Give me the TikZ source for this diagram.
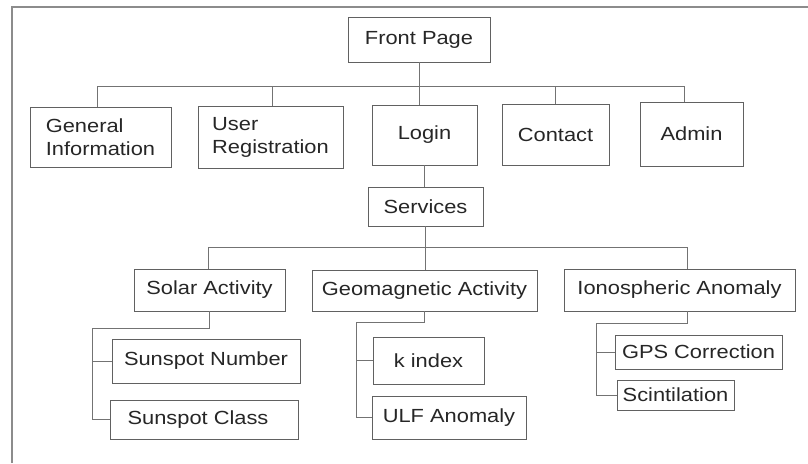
\documentclass[tikz,border=0pt]{standalone}
\usepackage{fontspec}
\newfontfamily\arialish[FakeStretch=1.15]{Liberation Sans}
\begin{document}
\begin{tikzpicture}[x=1pt,y=-1pt,
  box/.style={draw=black!62, line width=0.9pt, inner sep=0pt, align=center,
    font=\arialish\fontsize{19}{23}\selectfont, text=black!85},
  conn/.style={draw=black!55, line width=0.9pt},
  frame/.style={draw=black!45, line width=1.3pt}]
\useasboundingbox (0,0) rectangle (808,463);
\draw[frame] (12,463) -- (12,7) -- (808,7);

\node[box, minimum width=142, minimum height=45] (fp) at (419,39.5) {Front Page};
\node[box, minimum width=141, minimum height=60, align=left] (gen) at (100.5,137) {General\\Information};
\node[box, minimum width=145, minimum height=62, align=left] (reg) at (270.5,137) {User\\Registration};
\node[box, minimum width=105, minimum height=60] (login) at (424.5,135) {Login};
\node[box, minimum width=107, minimum height=61] (contact) at (555.5,134.5) {Contact};
\node[box, minimum width=103, minimum height=64] (admin) at (691.5,134) {Admin};
\node[box, minimum width=115, minimum height=39] (services) at (425.5,206.5) {Services};
\node[box, minimum width=151, minimum height=42] (solar) at (209.5,290) {Solar Activity};
\node[box, minimum width=225, minimum height=41] (geomag) at (424.5,290.5) {Geomagnetic Activity};
\node[box, minimum width=231, minimum height=42] (iono) at (679.5,290) {Ionospheric Anomaly};
\node[box, minimum width=188, minimum height=44] (sunnum) at (206,361) {Sunspot Number};
\node[box, minimum width=188, minimum height=39] (sunclass) at (204,419.5) {\hspace*{-12pt}Sunspot Class};
\node[box, minimum width=111, minimum height=47] (kindex) at (428.5,360.5) {k index};
\node[box, minimum width=154, minimum height=43] (ulf) at (449,417.5) {ULF Anomaly};
\node[box, minimum width=167, minimum height=34] (gps) at (698.5,352) {GPS Correction};
\node[box, minimum width=117, minimum height=30] (scint) at (675.5,395) {Scintilation};

\coordinate (bus) at (0,86);
\coordinate (lbus) at (0,247);
\coordinate (sx) at (92,328);
\coordinate (gx) at (356,322);
\coordinate (ix) at (596,323);

% top tree
\draw[conn] (fp.south) -- (fp.south |- login.north);
\draw[conn] ([xshift=-3.5pt]gen.north) -- ([xshift=-3.5pt]gen.north |- bus) -| ([xshift=-7.5pt]admin.north);
\draw[conn] (reg.north -| 272,0) -- (272,86);
\draw[conn] (contact.north) -- (contact.north |- bus);
\draw[conn] (login.south) -- (login.south |- services.north);

% services tree
\draw[conn] ([xshift=-1.5pt]solar.north) -- ([xshift=-1.5pt]solar.north |- lbus) -| ([xshift=7.5pt]iono.north);
\draw[conn] (services.south) -- (services.south |- geomag.north);

% leaves
\draw[conn] (solar.south) |- (sx) |- (sunclass.west);
\draw[conn] (sx |- sunnum.west) -- (sunnum.west);
\draw[conn] (geomag.south) |- (gx) |- (ulf.west);
\draw[conn] (gx |- kindex.west) -- (kindex.west);
\draw[conn] ([xshift=7.5pt]iono.south) |- (ix) |- (scint.west);
\draw[conn] (ix |- gps.west) -- (gps.west);
\end{tikzpicture}
\end{document}
